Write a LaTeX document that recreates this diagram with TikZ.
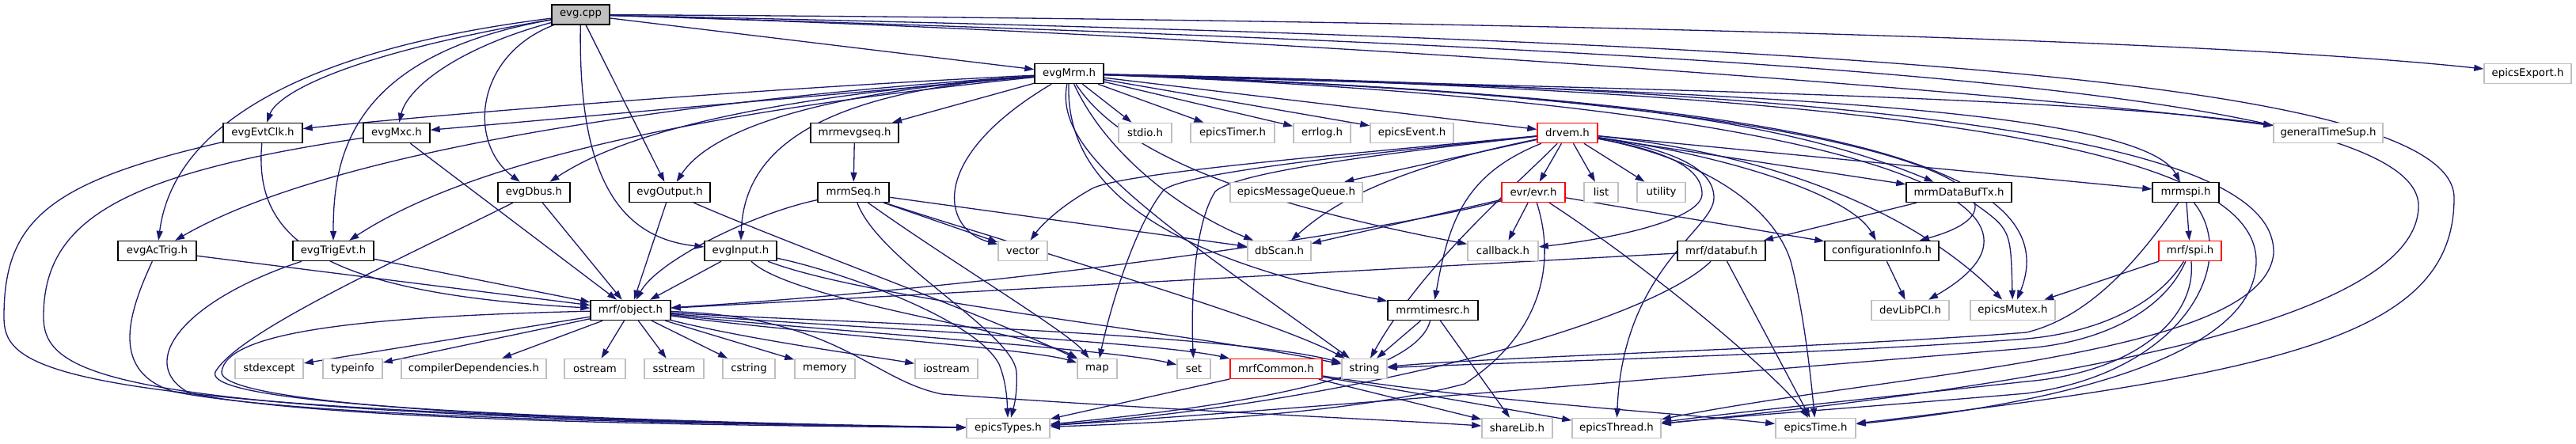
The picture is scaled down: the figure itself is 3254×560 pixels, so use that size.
\documentclass[tikz,border=0pt]{standalone}
\usepackage{fontspec}
\setmainfont{DejaVu Sans}
\usetikzlibrary{arrows.meta}
\definecolor{edgec}{HTML}{191970}
\definecolor{gbord}{HTML}{BFBFBF}
\definecolor{rbord}{HTML}{FF0000}
\definecolor{cppfill}{HTML}{BFBFBF}
\pgfdeclarelayer{bglayer}
\pgfdeclarelayer{edgelayer}
\pgfsetlayers{bglayer,edgelayer,main}
\begin{document}
\begin{tikzpicture}[x=1pt,y=-1pt,
  box/.style={minimum height=25pt,inner sep=0pt,font=\fontsize{13.3}{16}\selectfont,fill=white},
  nb/.style={box,draw=black,line width=1.4pt},
  ng/.style={box,draw=gbord,line width=1.6pt},
  nr/.style={box,draw=rbord,line width=1.5pt},
  edg/.style={draw=edgec,line width=1.3pt,-{Triangle[length=12pt,width=8pt]}}]
\begin{pgfonlayer}{bglayer}
\fill[white] (0,0) rectangle (3254,560);
\end{pgfonlayer}
\useasboundingbox (0,0) rectangle (3254,560);
% ---------- nodes ----------
\node[nb,fill=cppfill,minimum width=73pt] (evgcpp) at (733.5,18.5) {evg.cpp};
\node[nb,minimum width=87pt] (evgMrm) at (1350.5,93) {evgMrm.h};
\node[ng,minimum width=110pt] (epicsExport) at (3193,93) {epicsExport.h};
% row C
\node[nb,minimum width=100pt] (evgEvtClk) at (332,168) {evgEvtClk.h};
\node[nb,minimum width=84pt] (evgMxc) at (501,168) {evgMxc.h};
\node[nb,minimum width=111pt] (mrmevgseq) at (1079.5,168) {mrmevgseq.h};
\node[ng,minimum width=67pt] (stdio) at (1446.5,168) {stdio.h};
\node[ng,minimum width=106pt] (epicsTimer) at (1557,168) {epicsTimer.h};
\node[ng,minimum width=72pt] (errlog) at (1670,168) {errlog.h};
\node[ng,minimum width=105pt] (epicsEvent) at (1783.5,168) {epicsEvent.h};
\node[nr,minimum width=76pt] (drvem) at (1980,168) {drvem.h};
\node[ng,minimum width=138pt] (generalTimeSup) at (2941,168) {generalTimeSup.h};
% row D
\node[nb,minimum width=91pt] (evgDbus) at (674.5,243) {evgDbus.h};
\node[nb,minimum width=102pt] (evgOutput) at (846,243) {evgOutput.h};
\node[nb,minimum width=90pt] (mrmSeq) at (1078,243) {mrmSeq.h};
\node[ng,minimum width=167pt] (epicsMessageQueue) at (1637.5,243) {epicsMessageQueue.h};
\node[nr,minimum width=80pt] (evr) at (1937,243) {evr/evr.h};
\node[ng,minimum width=43pt] (list) at (2022.5,243) {list};
\node[ng,minimum width=61pt] (utility) at (2098.5,243) {utility};
\node[nb,minimum width=133pt] (mrmDataBufTx) at (2474.5,243) {mrmDataBufTx.h};
\node[nb,minimum width=84pt] (mrmspi) at (2761,243) {mrmspi.h};
% row E
\node[nb,minimum width=99pt] (evgAcTrig) at (198.5,317) {evgAcTrig.h};
\node[nb,minimum width=102pt] (evgTrigEvt) at (421,317) {evgTrigEvt.h};
\node[nb,minimum width=91pt] (evgInput) at (935.5,317) {evgInput.h};
\node[ng,minimum width=62pt] (vector) at (1292,317) {vector};
\node[ng,minimum width=80pt] (dbScan) at (1616,317) {dbScan.h};
\node[ng,minimum width=89pt] (callback) at (1898.5,317) {callback.h};
\node[nb,minimum width=111pt] (databuf) at (2174.5,317) {mrf/databuf.h};
\node[nb,minimum width=144pt] (configurationInfo) at (2377,317) {configurationInfo.h};
\node[nr,minimum width=79pt] (mrfspi) at (2766.5,317) {mrf/spi.h};
% row F
\node[nb,minimum width=101pt] (object) at (796.5,392) {mrf/object.h};
\node[nb,minimum width=114pt] (mrmtimesrc) at (1810,392) {mrmtimesrc.h};
\node[ng,minimum width=98pt] (devLibPCI) at (2413,392) {devLibPCI.h};
\node[ng,minimum width=107pt] (epicsMutex) at (2542.5,392) {epicsMutex.h};
% row G
\node[ng,minimum width=86pt] (stdexcept) at (340,466) {stdexcept};
\node[ng,minimum width=75pt] (typeinfo) at (445.5,466) {typeinfo};
\node[ng,minimum width=183pt] (compilerDependencies) at (598.5,466) {compilerDependencies.h};
\node[ng,minimum width=77pt] (ostream) at (751.5,466) {ostream};
\node[ng,minimum width=75pt] (sstream) at (851.5,466) {sstream};
\node[ng,minimum width=66pt] (cstring) at (946,466) {cstring};
\node[ng,minimum width=76pt] (memory) at (1042,466) {memory};
\node[ng,minimum width=79pt] (iostream) at (1195.5,466) {iostream};
\node[ng,minimum width=50pt] (map) at (1386,466) {map};
\node[ng,minimum width=42pt] (set) at (1508,466) {set};
\node[nr,minimum width=116pt] (mrfCommon) at (1612,466) {mrfCommon.h};
\node[ng,minimum width=57pt] (string) at (1723.5,466) {string};
% row H
\node[ng,minimum width=105pt] (epicsTypes) at (1273.5,541) {epicsTypes.h};
\node[ng,minimum width=89pt] (shareLib) at (1916.5,541) {shareLib.h};
\node[ng,minimum width=112pt] (epicsThread) at (2042,541) {epicsThread.h};
\node[ng,minimum width=101pt] (epicsTime) at (2293.5,541) {epicsTime.h};
% ---------- edges ----------
\begin{pgfonlayer}{edgelayer}
% evg.cpp
\draw[edg] (evgcpp) -- (evgMrm);
\draw[edg] (evgcpp) .. controls (1500,22) and (2700,40) .. (epicsExport);
\draw[edg] (evgcpp) .. controls (1500,40) and (2500,110) .. (generalTimeSup);
\draw[edg] (evgcpp) .. controls (2200,50) and (3100,90) .. (3100,250) .. controls (3100,420) and (2900,470) .. (epicsTime);
\draw[edg] (evgcpp) .. controls (2200,62) and (3055,110) .. (3055,260) .. controls (3055,420) and (2500,495) .. (epicsThread);
\draw[edg] (evgcpp) .. controls (430,70) and (350,120) .. (evgEvtClk);
\draw[edg] (evgcpp) .. controls (400,60) and (220,150) .. (evgAcTrig);
\draw[edg] (evgcpp) .. controls (440,70) and (421,200) .. (evgTrigEvt);
\draw[edg] (evgcpp) .. controls (580,60) and (515,110) .. (evgMxc);
\draw[edg] (evgcpp) .. controls (600,70) and (590,180) .. (evgDbus);
\draw[edg] (evgcpp) -- (evgOutput);
\draw[edg] (evgcpp) .. controls (730,220) and (780,300) .. (evgInput);
% evgMrm.h
\draw[edg] (evgMrm) .. controls (900,115) and (500,150) .. (evgEvtClk);
\draw[edg] (evgMrm) -- (evgMxc);
\draw[edg] (evgMrm) .. controls (800,130) and (400,200) .. (evgAcTrig);
\draw[edg] (evgMrm) .. controls (900,140) and (600,200) .. (evgTrigEvt);
\draw[edg] (evgMrm) .. controls (1000,120) and (800,160) .. (evgDbus);
\draw[edg] (evgMrm) .. controls (1050,115) and (900,160) .. (evgOutput);
\draw[edg] (evgMrm) .. controls (1050,115) and (940,180) .. (evgInput);
\draw[edg] (evgMrm) -- (mrmevgseq);
\draw[edg] (evgMrm) -- (stdio);
\draw[edg] (evgMrm) -- (epicsTimer);
\draw[edg] (evgMrm) -- (errlog);
\draw[edg] (evgMrm) -- (epicsEvent);
\draw[edg] (evgMrm) -- (drvem);
\draw[edg] (evgMrm) .. controls (2000,112) and (2600,120) .. (generalTimeSup);
\draw[edg] (evgMrm) .. controls (2000,116) and (2250,150) .. (mrmDataBufTx);
\draw[edg] (evgMrm) .. controls (2100,114) and (2700,130) .. (mrmspi);
\draw[edg] (evgMrm) .. controls (2400,125) and (2620,250) .. (configurationInfo);
\draw[edg] (evgMrm) .. controls (2250,122) and (2620,200) .. (epicsMutex);
\draw[edg] (evgMrm) .. controls (2300,128) and (2660,250) .. (devLibPCI);
\draw[edg] (evgMrm) .. controls (2500,118) and (2850,200) .. (2850,330) .. controls (2850,450) and (2600,510) .. (epicsTime);
\draw[edg] (evgMrm) .. controls (2550,115) and (2875,200) .. (2872,320) .. controls (2860,450) and (2400,470) .. (epicsThread);
\draw[edg] (evgMrm) .. controls (1170,200) and (1190,290) .. (vector);
\draw[edg] (evgMrm) .. controls (1331,190) and (1450,270) .. (string);
\draw[edg] (evgMrm) .. controls (1345,250) and (1500,330) .. (mrmtimesrc);
\draw[edg] (evgMrm) .. controls (1420,200) and (1600,260) .. (callback);
\draw[edg] (evgMrm) .. controls (1400,200) and (1500,270) .. (dbScan);
% drvem.h
\draw[edg] (drvem) -- (epicsMessageQueue);
\draw[edg] (drvem) -- (evr);
\draw[edg] (drvem) -- (list);
\draw[edg] (drvem) -- (utility);
\draw[edg] (drvem) .. controls (1700,195) and (1420,218) .. (1380,238) .. controls (1340,260) and (1315,285) .. (vector);
\draw[edg] (drvem) .. controls (1700,197) and (1500,218) .. (1470,240) .. controls (1430,290) and (1400,400) .. (map);
\draw[edg] (drvem) .. controls (1700,199) and (1560,220) .. (1535,242) .. controls (1505,290) and (1505,400) .. (set);
\draw[edg] (drvem) .. controls (1750,215) and (1680,260) .. (dbScan);
\draw[edg] (drvem) .. controls (1850,220) and (1830,280) .. (mrmtimesrc);
\draw[edg] (drvem) .. controls (1920,230) and (1800,330) .. (string);
\draw[edg] (drvem) .. controls (2100,190) and (2150,210) .. (2150,245) .. controls (2150,275) and (2050,300) .. (callback);
\draw[edg] (drvem) -- (mrmDataBufTx);
\draw[edg] (drvem) -- (mrmspi);
\draw[edg] (drvem) .. controls (2200,200) and (2340,250) .. (configurationInfo);
\draw[edg] (drvem) .. controls (2200,190) and (2400,250) .. (epicsMutex);
\draw[edg] (drvem) .. controls (2150,200) and (2240,260) .. (2262,330) .. controls (2275,380) and (2285,450) .. (epicsTime);
\draw[edg] (drvem) .. controls (2120,190) and (2165,215) .. (2165,250) .. controls (2165,290) and (2050,340) .. (epicsThread);
% evr/evr.h
\draw[edg] (evr) -- (callback);
\draw[edg] (evr) -- (configurationInfo);
\draw[edg] (evr) -- (dbScan);
\draw[edg] (evr) .. controls (1760,290) and (1300,360) .. (object);
\draw[edg] (evr) .. controls (1965,330) and (1950,420) .. (1850,485) .. controls (1700,525) and (1450,535) .. (epicsTypes);
\draw[edg] (evr) .. controls (2100,350) and (2250,480) .. (epicsTime);
% mrmevgseq / mrmSeq
\draw[edg] (mrmevgseq) -- (mrmSeq);
\draw[edg] (mrmSeq) -- (vector);
\draw[edg] (mrmSeq) -- (dbScan);
\draw[edg] (mrmSeq) .. controls (950,270) and (830,330) .. (object);
\draw[edg] (mrmSeq) .. controls (1200,330) and (1350,420) .. (map);
\draw[edg] (mrmSeq) .. controls (1250,300) and (1600,400) .. (string);
\draw[edg] (mrmSeq) .. controls (1110,330) and (1280,420) .. (1284,470) .. controls (1285,490) and (1283,505) .. (epicsTypes);
% mrmDataBufTx / mrmspi / mrf/spi
\draw[edg] (mrmDataBufTx) -- (databuf);
\draw[edg] (mrmDataBufTx) .. controls (2540,290) .. (epicsMutex);
\draw[edg] (mrmspi) -- (mrfspi);
\draw[edg] (mrmspi) .. controls (2700,330) and (2640,400) .. (2560,420) .. controls (2300,440) and (1900,450) .. (string);
\draw[edg] (mrmspi) .. controls (2830,330) and (2760,470) .. (2560,497) .. controls (2350,515) and (2200,525) .. (epicsThread);
\draw[edg] (mrfspi) -- (epicsMutex);
\draw[edg] (mrfspi) .. controls (2725,385) and (2650,420) .. (2560,428) .. controls (2300,448) and (1900,458) .. (string);
\draw[edg] (mrfspi) .. controls (2735,390) and (2660,432) .. (2560,440) .. controls (2200,470) and (1600,520) .. (epicsTypes);
\draw[edg] (mrfspi) .. controls (2775,400) and (2700,470) .. (2560,482) .. controls (2350,505) and (2200,520) .. (epicsThread);
% configurationInfo / databuf / mrmtimesrc
\draw[edg] (configurationInfo) -- (devLibPCI);
\draw[edg] (databuf) -- (object);
\draw[edg] (databuf) .. controls (2080,410) and (1700,510) .. (epicsTypes);
\draw[edg] (databuf) -- (epicsTime);
\draw[edg] (mrmtimesrc) -- (string);
\draw[edg] (mrmtimesrc) -- (shareLib);
\draw[edg] (mrmtimesrc) .. controls (1790,470) and (1600,510) .. (epicsTypes);
% mrf/object.h
\draw[edg] (object) -- (stdexcept);
\draw[edg] (object) -- (typeinfo);
\draw[edg] (object) -- (compilerDependencies);
\draw[edg] (object) -- (ostream);
\draw[edg] (object) -- (sstream);
\draw[edg] (object) -- (cstring);
\draw[edg] (object) -- (memory);
\draw[edg] (object) .. controls (950,430) and (1100,450) .. (iostream);
\draw[edg] (object) .. controls (1000,420) and (1300,440) .. (map);
\draw[edg] (object) .. controls (1000,415) and (1400,440) .. (set);
\draw[edg] (object) .. controls (1000,410) and (1450,430) .. (mrfCommon);
\draw[edg] (object) .. controls (1000,405) and (1550,420) .. (string);
\draw[edg] (object) .. controls (450,400) and (285,420) .. (280,470) .. controls (278,500) and (500,530) .. (epicsTypes);
\draw[edg] (object) .. controls (1060,400) and (1100,480) .. (1190,498) .. controls (1500,520) and (1750,530) .. (shareLib);
% mrfCommon.h
\draw[edg] (mrfCommon) -- (epicsTypes);
\draw[edg] (mrfCommon) -- (shareLib);
\draw[edg] (mrfCommon) -- (epicsThread);
\draw[edg] (mrfCommon) .. controls (1900,510) and (2100,520) .. (epicsTime);
% evg* headers
\draw[edg] (evgEvtClk) .. controls (320,300) and (400,370) .. (object);
\draw[edg] (evgEvtClk) .. controls (60,230) and (5,280) .. (5,400) .. controls (5,470) and (60,520) .. (epicsTypes);
\draw[edg] (evgMxc) -- (object);
\draw[edg] (evgMxc) .. controls (150,220) and (55,280) .. (55,400) .. controls (55,480) and (150,525) .. (epicsTypes);
\draw[edg] (evgAcTrig) -- (object);
\draw[edg] (evgAcTrig) .. controls (160,400) and (140,470) .. (220,495) .. controls (400,530) and (900,535) .. (epicsTypes);
\draw[edg] (evgTrigEvt) -- (object);
\draw[edg] (evgTrigEvt) .. controls (230,380) and (170,460) .. (240,497) .. controls (420,533) and (900,537) .. (epicsTypes);
\draw[edg] (evgDbus) -- (object);
\draw[edg] (evgDbus) .. controls (500,330) and (300,420) .. (272,470) .. controls (262,495) and (400,525) .. (epicsTypes);
\draw[edg] (evgOutput) -- (object);
\draw[edg] (evgOutput) .. controls (1000,310) and (1250,400) .. (map);
\draw[edg] (evgInput) -- (object);
\draw[edg] (evgInput) .. controls (1050,340) and (1230,400) .. (1262,460) .. controls (1270,480) and (1272,500) .. (epicsTypes);
\draw[edg] (evgInput) .. controls (1000,380) and (1300,420) .. (map);
\draw[edg] (evgInput) .. controls (1100,380) and (1500,420) .. (string);
\end{pgfonlayer}
\end{tikzpicture}
\end{document}
